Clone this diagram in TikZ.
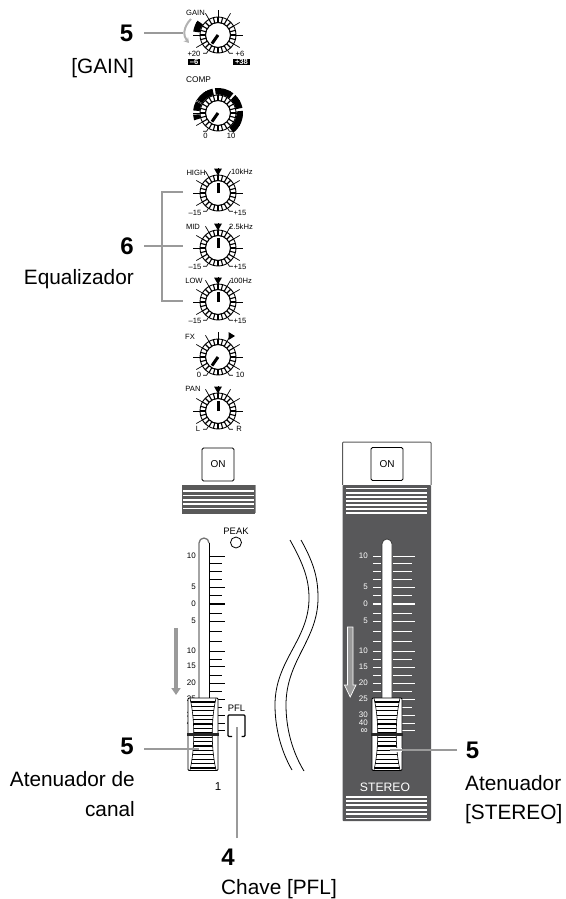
\documentclass[tikz,border=0pt]{standalone}
\usepackage{fontspec}
\setmainfont{Liberation Sans}
\usetikzlibrary{arrows.meta}
\definecolor{leadgray}{HTML}{9A9A9A}
\definecolor{panel}{HTML}{58585A}
\newcommand{\knob}[4]{%
  \begin{scope}[shift={(#2,#3)},yscale=-1]
    \coordinate (#1) at (0,0);
    \foreach \a in {210,180,...,-30} \draw[line width=.7pt] (\a:17) -- (\a:25);
    \draw[line width=.7pt] (238:17) -- (238:21.5) -- ++(-3.5,0);
    \draw[line width=.7pt] (-58:17) -- (-58:21.5) -- ++(3.5,0);
    \draw[fill=white,line width=.9pt] (0,0) circle (18);
    \foreach \a in {0,15,...,345} \draw[line width=1.1pt] (\a:12.5) -- (\a:18);
    \draw[fill=white,line width=1.1pt] (0,0) circle (12.5);
    \draw[line width=3pt] (0,0) -- (#4:10.5);
  \end{scope}}
\newcommand{\sliderknob}[3]{%
  \begin{scope}[shift={(#2,0)}]
    \coordinate (#1) at (0,734);
    \draw[fill=white,rounded corners=1pt,line width=.9pt] (-15,698) rectangle (15,770.5);
    \begin{scope}
      \clip (-13,698) .. controls (-8,720) and (-8,748) .. (-13,770) -- (13,770) .. controls (8,748) and (8,720) .. (13,698) -- cycle;
      \foreach \y in {702,706.4,...,768} \draw[line width=#3] (-15,\y) -- (15,\y);
    \end{scope}
    \draw[line width=.6pt] (-13,698) .. controls (-8,720) and (-8,748) .. (-13,770);
    \draw[line width=.6pt] (13,698) .. controls (8,720) and (8,748) .. (13,770);
    \draw[line width=3pt,black!85] (-16,734) -- (16,734);
  \end{scope}}
\tikzset{
  num/.style={font=\bfseries\fontsize{24}{26}\selectfont, inner sep=0pt},
  capt/.style={font=\fontsize{20.8}{29.2}\selectfont, inner sep=0pt, align=right, anchor=east},
  tiny/.style={font=\fontsize{7.6}{8}\selectfont, inner sep=0pt},
  midlab/.style={font=\fontsize{9.4}{10}\selectfont, inner sep=0pt},
  scalelab/.style={font=\fontsize{8}{8}\selectfont, inner sep=0pt, anchor=east},
  inflab/.style={font=\fontsize{10}{8}\selectfont, inner sep=0pt, anchor=east},
  leader/.style={draw=leadgray, line width=2pt},
  onbtn/.style={draw, fill=white, rounded corners=1.5pt, line width=.9pt, minimum width=32pt,
    minimum height=33pt, inner sep=0pt, font=\fontsize{10}{11}\selectfont},
  tickmark/.style={line width=.7pt}
}
\begin{document}
\begin{tikzpicture}[x=1pt,y=-1pt,>={Stealth[]}]
\useasboundingbox (0,0) rectangle (565,899);

\knob{kgain}{218}{35}{-125}
\knob{kcomp}{218}{113}{-125}
\knob{khigh}{218}{193}{90}
\knob{kmid}{218}{248}{90}
\knob{klow}{218}{302}{90}
\knob{kfx}{218}{357}{-125}
\knob{kpan}{218}{411}{90}

\begin{scope}[shift={(218,35)},yscale=-1]
  \fill (172:18.5) arc (172:145:18.5) -- (145:25) arc (145:172:25) -- cycle;
\end{scope}
\begin{scope}[shift={(218,113)},yscale=-1]
  \foreach \s/\e in {148/103,97/52,46/12,5/-52,174/152,197/184}
    \fill (\s:18.5) arc (\s:\e:18.5) -- (\e:25) arc (\e:\s:25) -- cycle;
\end{scope}

\node[tiny] (tgain) at (195.5,13) {GAIN};
\node[tiny] (tg20) at (194,54) {+20};
\node[tiny] (tg6) at (240,54) {+6};
\node[tiny,fill=black,text=white,minimum width=12pt,minimum height=6pt] (tgm6) at (194,62) {\bfseries –6};
\node[tiny,fill=black,text=white,minimum width=17pt,minimum height=6pt] (tg38) at (241.5,62) {\bfseries +38};
\node[tiny,font=\fontsize{8.3}{9}\selectfont] (tcomp) at (198.5,80) {COMP};
\node[tiny] (tc0) at (205.5,136) {0};
\node[tiny] (tc10) at (231,136) {10};
\node[tiny] (thigh) at (196,173) {HIGH};
\node[tiny] (thf) at (242,172) {10kHz};
\node[tiny] (tmid) at (193,227) {MID};
\node[tiny] (tmf) at (241,227) {2.5kHz};
\node[tiny] (tlow) at (194,281) {LOW};
\node[tiny] (tlf) at (241,281) {100Hz};
\node[tiny] (thl) at (195,213) {–15};
\node[tiny] (thr) at (240,213) {+15};
\node[tiny] (tml) at (195,267) {–15};
\node[tiny] (tmr) at (240,267) {+15};
\node[tiny] (tll) at (195,321) {–15};
\node[tiny] (tlr) at (240,321) {+15};
\node[tiny] (tfx) at (190,337) {FX};
\node[tiny] (tf0) at (199,375) {0};
\node[tiny] (tf10) at (240,375) {10};
\node[tiny] (tpan) at (193,389) {PAN};
\node[tiny] (tpl) at (198,429) {L};
\node[tiny] (tpr) at (239,429) {R};
\foreach \y in {172,227,281,390}
  \fill (214,\y-3.5) -- (222,\y-3.5) -- (218,\y+3.5) -- cycle;
\fill (228.5,332) -- (228.5,340) -- (235,336) -- cycle;

\draw[draw=gray!60,line width=2pt,-{Stealth[length=5pt,width=6pt]}] (191,19) .. controls (183,27) and (183,36) .. (189,43);

\node[onbtn] (onch) at (218,464.5) {ON};
\draw[line width=.8pt,draw=black!65,fill=black!65] (182,485) rectangle (254,513);
\draw[draw=black!40,line width=1pt] (255.5,485) -- (255.5,513);
\foreach \y in {491,495.5,500,504,508.5} \draw[white,line width=1.5pt] (183,\y) -- (254,\y);

\draw[line width=1.3pt,black!55] (199,698) -- (199,543) arc (180:360:5);
\draw[line width=.8pt] (209,543) -- (209,698);
\foreach \y in {556,587,621,651,666,683,699,715,723,730} \draw[tickmark] (209,\y) -- (225,\y);
\foreach \y in {563,571,579,595,613,631,641,659,675,691,707} \draw[tickmark] (209,\y) -- (222,\y);
\draw[line width=2.4pt] (209,604) -- (225,604);
\foreach \y/\t in {556/10,587/5,604/0,621/5,651/10,666/15,683/20,699/25,715/30,722.5/40}
  \node[scalelab] (ch\y) at (196,\y) {\t};
\node[inflab] (chinf) at (196,731.5) {∞};
\node[midlab] (tpeak) at (236,531) {PEAK};
\node[draw,circle,line width=.8pt,minimum size=11pt,inner sep=0pt] (peak) at (236,542.5) {};
\draw[leadgray,line width=4pt,-{Triangle[length=7pt,width=9pt]}] (176,628) -- (176,695);
\sliderknob{kch}{203}{1.1pt}
\node[midlab] (tpfl) at (236.5,708) {PFL};
\draw[line width=1.1pt,rounded corners=1pt] (232,736.5) -- (228,736.5) -- (228,715) -- (245,715) -- (245,736.5) -- (241.5,736.5);
\node[inner sep=0pt,font=\fontsize{11.5}{12}\selectfont] (tone) at (218,787) {1};

\draw[draw=black!65,line width=1pt,fill=white,rounded corners=1pt] (342.5,485) |- (431,442) -- (431,485);
\fill[panel,rounded corners=1pt] (342.5,485) rectangle (431,821);
\node[onbtn] (onst) at (387,464) {ON};
\foreach \y in {488.5,493,497,501,505,509,513} \draw[white,line width=1.2pt] (346,\y) -- (427,\y);
\draw[black!80,line width=.7pt,fill=white] (382,698) -- (382,544) arc (180:360:5) -- (392,698);
\foreach \y in {556,587,621,651,667,683} {
  \draw[white,tickmark] (373,\y) -- (381,\y);
  \draw[white,tickmark] (393,\y) -- (415,\y);}
\foreach \y in {563,571,579,595,613,631,641,659,675,691} {
  \draw[white,tickmark] (373,\y) -- (381,\y);
  \draw[white,tickmark] (393,\y) -- (412,\y);}
\foreach \y in {699,715,723,730} \draw[white,tickmark] (393,\y) -- (415,\y);
\draw[white,tickmark] (393,707) -- (412,707);
\draw[white,line width=2.4pt] (373,604) -- (381,604);
\draw[white,line width=2.4pt] (393,604) -- (415,604);
\foreach \y/\t in {556/10,587/5,604/0,621/5,651/10,667/15,683/20,699/25,715/30,722.5/40}
  \node[scalelab,text=white] (st\y) at (368,\y) {\t};
\node[inflab,text=white] (stinf) at (368,731.5) {∞};
\draw[white,fill=leadgray,line width=.7pt] (347.5,627) -- (353,627) -- (353,685) -- (356,685) -- (350.2,697) -- (344.5,685) -- (347.5,685) -- cycle;
\sliderknob{kst}{387}{1.1pt}
\node[inner sep=0pt,text=white,font=\fontsize{12.2}{13}\selectfont] (tstereo) at (385,787) {STEREO};
\foreach \y in {797,801,805,810,814,818.5} \draw[white,line width=1.2pt] (346,\y) -- (427,\y);

\draw[line width=.8pt] (290,540) .. controls (304,565) and (309,580) .. (309,598) .. controls (309,640) and (275,660) .. (275,705) .. controls (275,735) and (285,758) .. (292,770);
\draw[line width=.8pt] (301,540) .. controls (315,565) and (318,580) .. (318,598) .. controls (318,640) and (286,660) .. (286,705) .. controls (286,735) and (296,758) .. (304,771);

\node[num] (ngain) at (126.5,33) {5};
\node[capt] (cgain) at (134,68) {[GAIN]};
\coordinate (sgain) at (144,33);
\coordinate (egain) at (183,33);
\draw[leader] (sgain) -- (egain);
\node[num] (neq) at (127,246) {6};
\node[capt] (ceq) at (134,279) {Equalizador};
\coordinate (seq) at (144,246);
\coordinate (eqh) at (183,192);
\coordinate (eqm) at (183,246);
\coordinate (eql) at (183,300.7);
\coordinate (eqj) at (162,246);
\draw[leader] (seq) -- (eqm);
\draw[leader] (eqh) -| (eqj) |- (eql);
\node[num] (nch) at (127,746) {5};
\node[capt] (cch) at (135,794) {Atenuador de\\canal};
\coordinate (sch) at (144,749);
\coordinate (ech) at (199,749);
\draw[leader] (sch) -- (ech);
\node[num] (npfl) at (228,857) {4};
\node[capt,anchor=west] (cpfl) at (221,889) {Chave [PFL]};
\coordinate (spfl) at (236.5,838);
\coordinate (epfl) at (236.5,727);
\draw[white,line width=3.6pt] (epfl) -- (236.5,745);
\draw[leader] (spfl) -- (epfl);
\node[num] (nst) at (472.5,750) {5};
\node[capt,align=left,anchor=west] (cst) at (465,800) {Atenuador\\{[}STEREO]};
\coordinate (sst) at (457,750);
\coordinate (est) at (390,750);
\draw[white,line width=3.4pt] (est) -- (402,750);
\draw[leader] (sst) -- (est);
\end{tikzpicture}
\end{document}
